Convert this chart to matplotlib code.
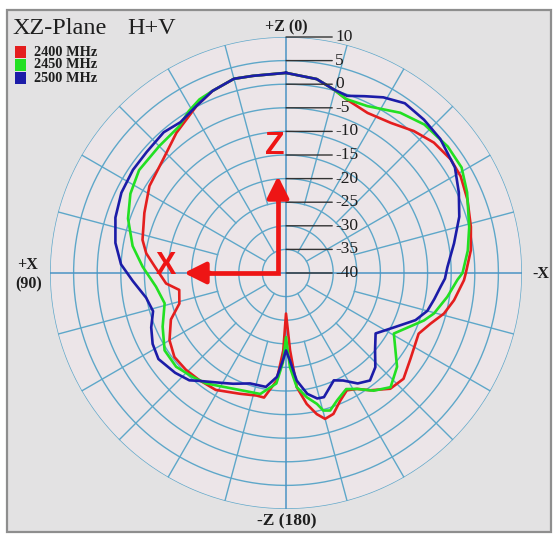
import numpy as np
import matplotlib
matplotlib.use("Agg")
import matplotlib.pyplot as plt
from matplotlib.patches import Rectangle, FancyArrowPatch

# ---- measured gain (dB) vs. angle (deg, from +Z toward +X) ----
ang_2400 = [0, 9.5, 15, 22, 28, 38, 47, 57.5, 67, 77, 82, 87, 95, 99, 106, 112,
            120, 127, 134, 141, 149, 159, 166.5, 170, 175, 178, 180, 183, 185.4,
            189, 192.3, 195, 198.6, 203, 207.4, 211.5, 215.7, 222, 228, 235.6,
            245.4, 250.7, 255.6, 260.8, 267.7, 270, 277, 284, 292, 299, 304.6,
            311.4, 318, 325, 333, 341, 345.5, 351]
db_2400 = [2.4, 2.35, 2.6, 1.6, 0.2, -2.3, -4.5, -5.7, -7.4, -8.8, -10.1, -12.1,
           -14.5, -17.1, -16.5, -13.7, -11.5, -10.4, -10.5, -10.8, -11.1, -12.6,
           -13.3, -13.2, -17.1, -23.6, -31.4, -23.6, -15.7, -11.9, -9.4, -8.0,
           -8.5, -10.6, -12.0, -11.2, -9.4, -7.0, -6.5, -8.0, -9.1, -7.55, -5.45,
           -3.94, -2.26, -1.9, -0.55, 0.37, 1.47, 2.3, 2.4, 1.77, 0.47, -1.2,
           -1.94, -1.0, 0.2, 1.6]

ang_2450 = [0, 9.5, 15, 22, 26.5, 31, 36, 45, 55, 63, 71, 80, 87.5, 96, 104,
            113.5, 122.5, 130.5, 138, 144, 155, 168, 175, 178, 180, 182.4, 185.4,
            189.5, 193.3, 195.2, 197.8, 201.8, 207.4, 211.5, 216.7, 222.5, 229.8,
            240.7, 251, 254.7, 261.6, 267.7, 270, 277, 284, 294, 301, 308, 317,
            324.5, 334, 341, 345.5, 351]
db_2450 = [2.4, 2.35, 2.6, 1.6, 1.1, 0.0, -1.55, -2.0, -2.0, -3.0, -4.6, -7.0,
           -9.6, -12.3, -13.5, -11.5, -9.5, -9.4, -10.4, -11.1, -13.0, -13.8,
           -16.5, -21.0, -26.4, -20.0, -15.7, -13.3, -11.5, -9.8, -9.4, -10.9,
           -12.3, -11.2, -8.9, -7.2, -9.2, -13.8, -9.1, -7.5, -5.45, -3.66, -2.6,
           -1.2, 0.0, 2.0, 3.4, 3.5, 3.0, 1.7, -0.66, -1.0, 0.2, 1.6]

ang_2500 = [0, 9.5, 15, 22, 28, 35, 41, 49, 56, 64, 72, 80, 87, 93, 100, 106,
            112, 118, 124, 132, 138, 141, 150, 154.5, 162, 170, 175, 178, 180,
            182.5, 185.7, 190, 194, 197, 204, 208, 213, 218, 223.5, 229, 236,
            243, 250, 255, 260, 265, 268, 272, 280, 288, 295, 302, 311, 318, 325,
            331, 336, 341, 345.5, 351]
db_2500 = [2.4, 2.35, 2.6, 1.6, 0.2, -1.0, -0.5, -0.9, -0.9, -1.2, -2.0, -3.3,
           -5.0, -7.5, -9.9, -10.7, -9.2, -8.0, -7.4, -8.4, -9.4, -10.6, -13.1,
           -14.0, -15.4, -15.5, -17.9, -21.5, -23.6, -21.5, -17.1, -14.0, -12.6,
           -12.5, -15.1, -14.2, -12.1, -11.1, -12.5, -15.0, -17.1, -14.5, -10.8,
           -9.0, -8.1, -7.1, -6.3, -5.8, -3.85, -1.4, 0.4, 2.2, 3.3, 3.7, 3.9,
           2.55, 1.0, -0.3, 0.2, 1.6]

series = ["2400 MHz", "2450 MHz", "2500 MHz"]
colors = ["#e41e1e", "#22e022", "#1c1ca8"]

ring_levels = [10, 5, 0, -5, -10, -15, -20, -25, -30, -35, -40]
ring_labels = ["10", "5", "0", "-5", "-10", "-15", "-20", "-25", "-30", "-35", "-40"]

W, H = 557, 535
fig = plt.figure(figsize=(W / 100, H / 100), dpi=100)
fig.patch.set_facecolor("white")
fig.patches.append(Rectangle((7 / W, 3 / H), 544 / W, 522 / H,
                             transform=fig.transFigure, facecolor="#e3e2e3",
                             edgecolor="#8e8e8e", lw=1.6, zorder=-10))

cx, cy, R = 286, 273, 236
ax = fig.add_axes([(cx - R) / W, (H - cy - R) / H, 2 * R / W, 2 * R / H],
                  projection="polar")
ax.set_zorder(1)
ax.set_facecolor("#ece5e8")
ax.set_theta_zero_location("N")
ax.set_theta_direction(1)
ax.set_ylim(-40, 10)
ax.set_xticks([])
ax.set_yticks([])
ax.grid(False)
ax.spines["polar"].set_visible(False)

gc = "#5ea7c9"
t = np.linspace(0, 2 * np.pi, 500)
for lvl in ring_levels[:-1]:
    ax.plot(t, np.full_like(t, lvl), color=gc, lw=1.0, zorder=1)
for a in range(0, 360, 15):
    th = np.deg2rad(a)
    if a % 90 == 0:
        ax.plot([th, th], [-40, 10], color="#4b93c4", lw=1.1, zorder=1)
    elif a % 30 == 0:
        ax.plot([th, th], [-35, 10], color=gc, lw=1.0, zorder=1)
    else:
        ax.plot([th, th], [-25, 10], color=gc, lw=1.0, zorder=1)

# radial scale labels with leader lines off the +Z axis
for lvl, lab in zip(ring_levels, ring_labels):
    ax.annotate(lab, xy=(0, lvl), xytext=(49, 0), textcoords="offset pixels",
                ha="left", va="center", fontsize=12.5, family="Liberation Serif",
                color="#1e1e1e", zorder=6, annotation_clip=False,
                arrowprops=dict(arrowstyle="-", color="#333333", lw=1.0,
                                shrinkA=0, shrinkB=0))

for ang, db, c in zip([ang_2400, ang_2450, ang_2500],
                      [db_2400, db_2450, db_2500], colors):
    th = np.deg2rad(np.r_[ang, ang[0] + 360])
    r = np.r_[db, db[0]]
    ax.plot(th, r, color=c, lw=1.9, zorder=4, solid_joinstyle="round")

# coordinate-system arrows
red = "#ee1515"
fig.add_artist(plt.Line2D([278, 278, 200], [H - 190, H - 273, H - 273],
                          transform=None, color=red, lw=3.4,
                          solid_joinstyle="miter", zorder=7))
for tip, tail in [((278, H - 176), (278, H - 200)), ((184, H - 273), (210, H - 273))]:
    fig.add_artist(FancyArrowPatch(
        tail, tip, transform=None, color=red, lw=3.4, shrinkA=0, shrinkB=0,
        arrowstyle="-|>,head_length=1.0,head_width=0.5", mutation_scale=13,
        zorder=8))
fig.text(275 / W, 1 - 146 / H, "Z", color=red, fontsize=23, weight="bold",
         family="Liberation Sans", ha="center", va="center", zorder=9)
fig.text(166 / W, 1 - 266 / H, "X", color=red, fontsize=22, weight="bold",
         family="Liberation Sans", ha="center", va="center", zorder=9)

# direction labels
lab_kw = dict(family="Liberation Serif", weight="bold", fontsize=11.5,
              color="#1e1e1e", ha="center", va="center")
fig.text(286 / W, 1 - 27 / H, "+Z (0)", **lab_kw)
fig.text(287 / W, 1 - 521 / H, "-Z (180)", **dict(lab_kw, fontsize=12.5))
fig.text(28 / W, 1 - 265 / H, "+X", **lab_kw)
fig.text(29 / W, 1 - 284 / H, "(90)", **lab_kw)
fig.text(541 / W, 1 - 274 / H, "-X", **lab_kw)

# title and legend
fig.text(12 / W, 1 - 29 / H, "XZ-Plane", family="Liberation Serif",
         fontsize=17.5, color="#1e1e1e", ha="left", va="center")
fig.text(127 / W, 1 - 29 / H, "H+V", family="Liberation Serif",
         fontsize=17.5, color="#1e1e1e", ha="left", va="center")
for i, (name, c) in enumerate(zip(series, colors)):
    y = 52 + i * 13
    fig.patches.append(Rectangle((15 / W, 1 - (y + 5.5) / H), 11 / W, 11 / H,
                                 transform=fig.transFigure, facecolor=c,
                                 edgecolor="none", zorder=3))
    fig.text(34 / W, 1 - y / H, name, family="Liberation Serif", weight="bold",
             fontsize=10.3, color="#1e1e1e", ha="left", va="center")

fig.savefig("out.png", dpi=100, facecolor=fig.get_facecolor())
